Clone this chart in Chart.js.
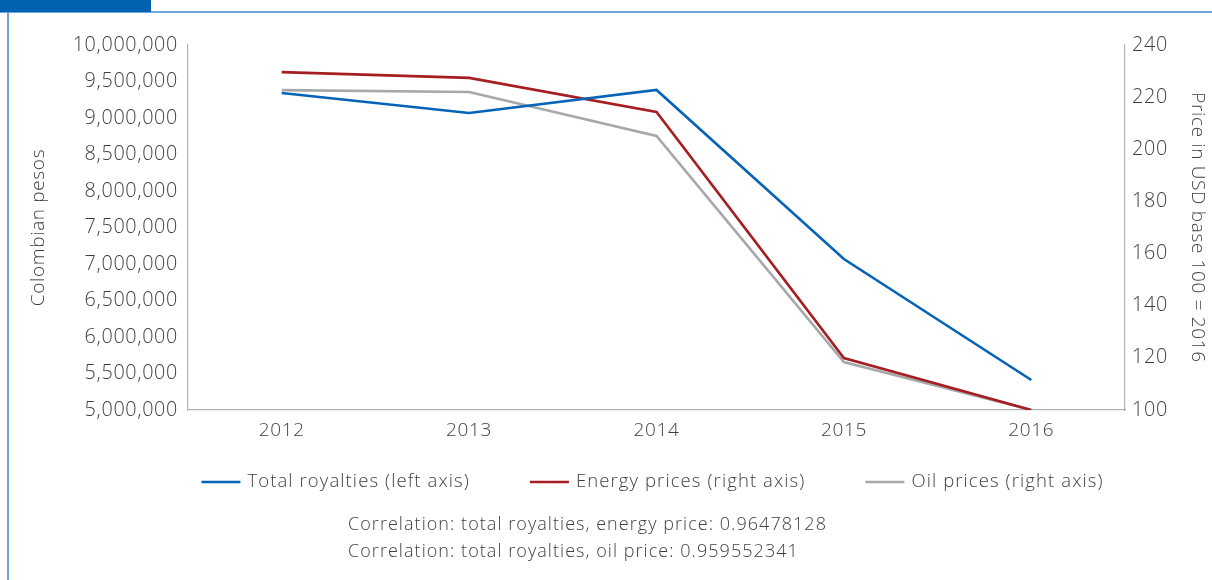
<!DOCTYPE html>
<html>
<head>
<meta charset="utf-8">
<script src="https://cdn.jsdelivr.net/npm/chart.js@4.4.1/dist/chart.umd.min.js"></script>
<style>
  html, body { margin: 0; padding: 0; background: #fff; }
  #wrap { position: relative; width: 1212px; height: 580px; overflow: hidden; }
  #tab { position: absolute; left: 0; top: 0; width: 151px; height: 12px; background: #0062B1; }
  #topline { position: absolute; left: 0; top: 11px; width: 1212px; height: 2px; background: #6FA6D8; }
  #leftline { position: absolute; left: 7px; top: 12px; width: 2px; height: 568px; background: #6FA6D8; }
  #c { position: absolute; left: 0; top: 0; }
</style>
</head>
<body>
<div id="wrap">
  <div id="topline"></div>
  <div id="tab"></div>
  <div id="leftline"></div>
  <canvas id="c" width="1212" height="580"></canvas>
</div>
<script>
const years = ['2012', '2013', '2014', '2015', '2016'];
const totalRoyalties = [9342000, 9068000, 9384000, 7068000, 5411000];
const energyPrices = [229.6, 227.4, 214.3, 119.9, 100];
const oilPrices = [222.7, 222.0, 205.1, 118.4, 100];
const correlationLines = [
  'Correlation: total royalties, energy price: 0.96478128',
  'Correlation: total royalties, oil price: 0.959552341'
];

const FONT = '"Open Sans", sans-serif';
const W = '300';
const TEXT = '#3f3f3f';
const AXIS_DASH = { display: true, dash: [4, 3], color: '#b3b3b3', width: 1.2 };
const SPACING = '0.65px';

const spacingPlugin = {
  id: 'spacing',
  beforeUpdate(chart) { chart.ctx.letterSpacing = SPACING; },
  beforeLayout(chart) { chart.ctx.letterSpacing = SPACING; },
  beforeDraw(chart) { chart.ctx.letterSpacing = SPACING; }
};

// Custom legend (built from the datasets) + correlation notes
const notesPlugin = {
  id: 'notes',
  afterDraw(chart) {
    const ctx = chart.ctx;
    ctx.save();
    ctx.letterSpacing = '1.1px';
    ctx.font = W + ' 18.5px ' + FONT;
    ctx.fillStyle = TEXT;
    ctx.textBaseline = 'middle';
    ctx.textAlign = 'left';
    const boxW = 39, gapBox = 7, gapItem = 60, legendY = 482;
    const items = chart.data.datasets.map(ds => ({
      label: ds.label, color: ds.borderColor, w: boxW + gapBox + ctx.measureText(ds.label).width
    }));
    const total = items.reduce((a, it) => a + it.w, 0) + gapItem * (items.length - 1);
    let x = 652.5 - total / 2;
    items.forEach(it => {
      ctx.fillStyle = it.color;
      ctx.fillRect(x, legendY - 1.25, boxW, 2.5);
      ctx.fillStyle = TEXT;
      ctx.fillText(it.label, x + boxW + gapBox, legendY);
      x += it.w + gapItem;
    });
    ctx.letterSpacing = '1.05px';
    ctx.font = W + ' 18px ' + FONT;
    ctx.fillText(correlationLines[0], 348, 525);
    ctx.fillText(correlationLines[1], 348, 552);
    ctx.restore();
  }
};

new Chart(document.getElementById('c'), {
  type: 'line',
  data: {
    labels: years,
    datasets: [
      { label: 'Total royalties (left axis)', data: totalRoyalties, yAxisID: 'yL',
        borderColor: '#0563B8', backgroundColor: '#0563B8', borderWidth: 2.6 },
      { label: 'Energy prices (right axis)', data: energyPrices, yAxisID: 'yR',
        borderColor: '#A51E22', backgroundColor: '#A51E22', borderWidth: 2.6 },
      { label: 'Oil prices (right axis)', data: oilPrices, yAxisID: 'yR',
        borderColor: '#A8A8AA', backgroundColor: '#A8A8AA', borderWidth: 2.6 }
    ]
  },
  options: {
    responsive: false,
    animation: false,
    devicePixelRatio: 1,
    layout: { padding: { left: 0, right: 0, top: 45, bottom: 125 } },
    elements: { point: { radius: 0, hoverRadius: 0 }, line: { tension: 0 } },
    plugins: {
      tooltip: { enabled: false },
      legend: { display: false }
    },
    scales: {
      x: {
        offset: true,
        grid: { display: false, drawTicks: false },
        border: AXIS_DASH,
        ticks: { font: { family: FONT, size: 19, weight: W }, color: TEXT, padding: 9 },
        afterFit(s) { s.height = 45; }
      },
      yL: {
        position: 'left',
        min: 5000000, max: 10000000,
        grid: { display: false, drawTicks: false },
        border: AXIS_DASH,
        ticks: {
          stepSize: 500000,
          font: { family: FONT, size: 19.8, weight: W }, color: TEXT, padding: 10,
          callback: v => Number(v).toLocaleString('en-US')
        },
        title: { display: true, text: 'Colombian pesos', color: TEXT,
          font: { family: FONT, size: 19, weight: W }, padding: { top: 27, bottom: 0 } },
        afterFit(s) { s.width = 188; }
      },
      yR: {
        position: 'right',
        min: 100, max: 240,
        grid: { display: false, drawTicks: false },
        border: AXIS_DASH,
        ticks: { stepSize: 20, font: { family: FONT, size: 19.8, weight: W }, color: TEXT, padding: 7 },
        title: { display: true, text: 'Price in USD base 100 = 2016', color: TEXT,
          font: { family: FONT, size: 19, weight: W }, padding: { top: 3, bottom: 0 } },
        afterFit(s) { s.width = 87; }
      }
    }
  },
  plugins: [spacingPlugin, notesPlugin]
});
</script>
</body>
</html>
